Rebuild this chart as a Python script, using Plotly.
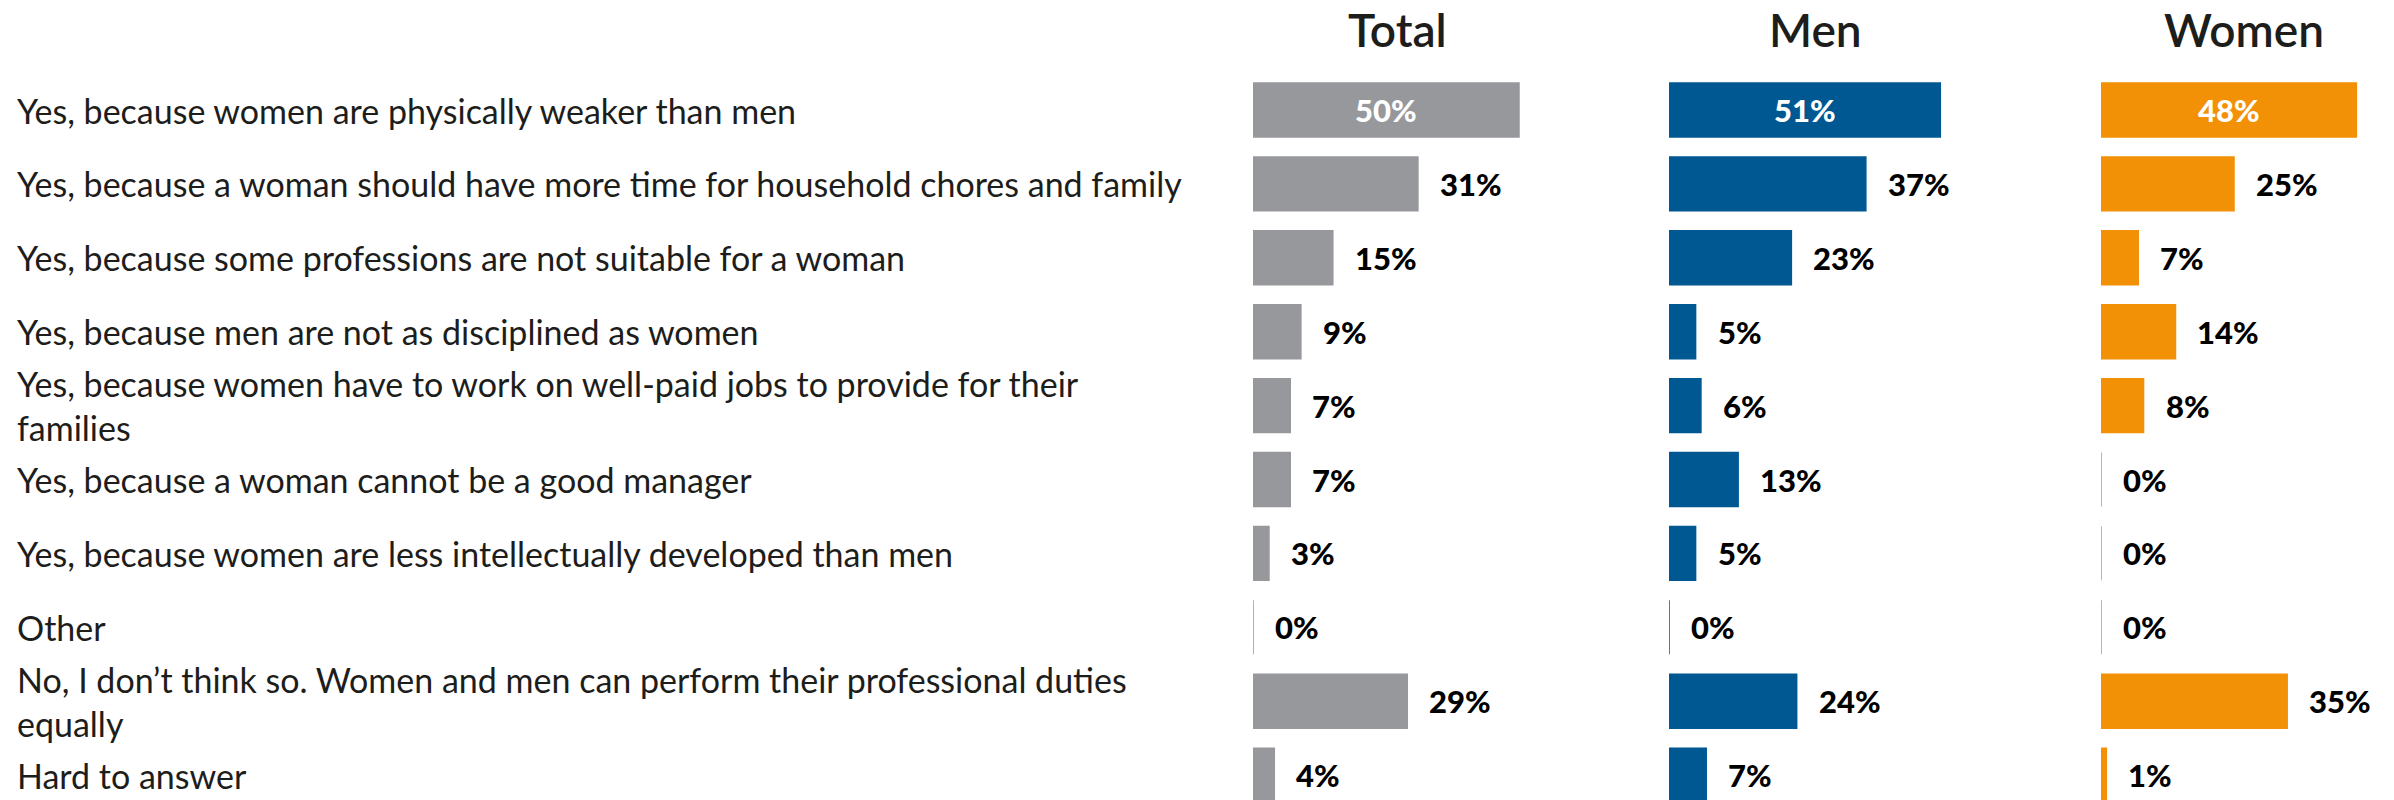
import textwrap
import plotly.graph_objects as go

# Survey answers (top to bottom) and shares in percent
categories = [
    "Yes, because women are physically weaker than men",
    "Yes, because a woman should have more time for household chores and family",
    "Yes, because some professions are not suitable for a woman",
    "Yes, because men are not as disciplined as women",
    "Yes, because women have to work on well-paid jobs to provide for their families",
    "Yes, because a woman cannot be a good manager",
    "Yes, because women are less intellectually developed than men",
    "Other",
    "No, I don\u2019t think so. Women and men can perform their professional duties equally",
    "Hard to answer",
]
total = [50, 31, 15, 9, 7, 7, 3, 0, 29, 4]
men = [51, 37, 23, 5, 6, 13, 5, 0, 24, 7]
women = [48, 25, 7, 14, 8, 0, 0, 0, 35, 1]

group_names = ["Total", "Men", "Women"]
group_colors = ["#97989c", "#005893", "#f29106"]

W, H = 2394, 800
FONT = "Lato"
TEXT_COLOR = "#1d1d1b"

# horizontal layout of the three panels (pixels)
panel_left = [1253, 1669, 2101]
px_per_pct = 5.32
x_max = 52
panel_width = px_per_pct * x_max
title_centers = [1397, 1815, 2244]

# vertical layout: category index range mapped to the full height
row_top_px, row_step_px = 110, 73.9
y_top = -row_top_px / row_step_px
y_bottom = (len(categories) - 1) + (H - (row_top_px + (len(categories) - 1) * row_step_px)) / row_step_px

fig = go.Figure()
annotations = []

for i, (name, vals, color) in enumerate(zip(group_names, [total, men, women], group_colors)):
    suffix = "" if i == 0 else str(i + 1)
    fig.add_trace(go.Bar(
        x=vals,
        y=categories,
        orientation="h",
        marker=dict(color=color, line=dict(color=color, width=1.5)),
        xaxis="x" + suffix,
        yaxis="y" + suffix,
        hoverinfo="x+y",
        showlegend=False,
    ))
    x0 = panel_left[i] / W
    fig.layout["xaxis" + suffix] = dict(
        domain=[x0, x0 + panel_width / W],
        range=[0, x_max],
        visible=False,
        fixedrange=True,
    )
    fig.layout["yaxis" + suffix] = dict(
        domain=[0, 1],
        range=[y_bottom, y_top],
        type="category",
        visible=False,
        anchor="x" + suffix,
        fixedrange=True,
    )
    # panel heading
    annotations.append(dict(
        text=name, xref="paper", yref="paper",
        x=title_centers[i] / W, y=1 - 30 / H,
        xanchor="center", yanchor="middle", showarrow=False,
        font=dict(family=FONT, size=46, color=TEXT_COLOR, weight=600),
    ))
    # value labels
    for cat, v in zip(categories, vals):
        inside = v >= 40
        annotations.append(dict(
            text=f"{v}%",
            xref="x" + suffix, yref="y" + suffix,
            x=v / 2 if inside else v, y=cat,
            xanchor="center" if inside else "left",
            xshift=0 if inside else 20,
            yanchor="middle", showarrow=False,
            font=dict(family=FONT, size=31, weight=900,
                      color="#ffffff" if inside else "#000000"),
        ))

# answer texts on the left
for cat in categories:
    annotations.append(dict(
        text="<br>".join(textwrap.wrap(cat, width=74)),
        xref="paper", yref="y",
        x=15 / W, y=cat,
        xanchor="left", yanchor="middle", align="left", showarrow=False,
        font=dict(family=FONT, size=34, color=TEXT_COLOR),
    ))

fig.update_layout(
    width=W, height=H,
    margin=dict(l=0, r=0, t=0, b=0),
    paper_bgcolor="#ffffff",
    plot_bgcolor="#ffffff",
    bargap=0.27,
    annotations=annotations,
    font=dict(family=FONT),
)

fig.write_html("out.html")
